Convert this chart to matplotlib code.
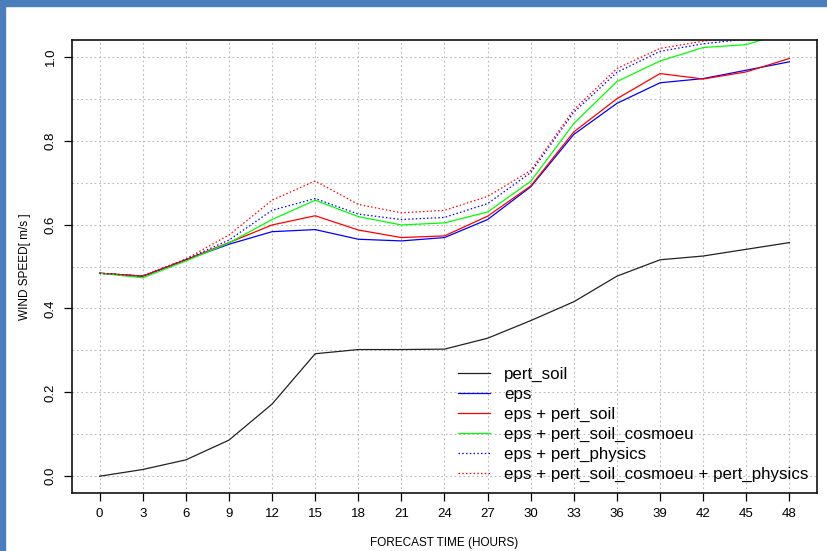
"""
Wind speed spread vs forecast lead time for the ensemble perturbation tests.
Re-draws the R base-graphics figure with matplotlib; saves out.png.
"""

import matplotlib
matplotlib.use("Agg")
import matplotlib.pyplot as plt
from matplotlib.patches import Rectangle
import numpy as np

# forecast lead times (hours)
hours = [0, 3, 6, 9, 12, 15, 18, 21, 24, 27, 30, 33, 36, 39, 42, 45, 48]

# wind speed [m/s]
pert_soil = [0.000, 0.016, 0.039, 0.086, 0.172, 0.292, 0.302, 0.302, 0.303,
             0.329, 0.371, 0.416, 0.477, 0.516, 0.525, 0.541, 0.557]
eps = [0.484, 0.477, 0.516, 0.553, 0.583, 0.588, 0.565, 0.561, 0.569,
       0.612, 0.690, 0.815, 0.889, 0.938, 0.948, 0.968, 0.988]
eps_soil = [0.484, 0.477, 0.516, 0.557, 0.599, 0.621, 0.587, 0.569, 0.573,
            0.620, 0.692, 0.821, 0.900, 0.960, 0.947, 0.964, 0.996]
eps_soil_cosmoeu = [0.484, 0.473, 0.513, 0.556, 0.612, 0.658, 0.619, 0.599, 0.604,
                    0.630, 0.703, 0.841, 0.941, 0.990, 1.022, 1.029, 1.060]
eps_physics = [0.484, 0.477, 0.517, 0.563, 0.634, 0.662, 0.625, 0.612, 0.617,
               0.650, 0.724, 0.868, 0.963, 1.013, 1.031, 1.042, 1.052]
eps_soil_cosmoeu_physics = [0.484, 0.477, 0.518, 0.575, 0.658, 0.704, 0.648, 0.628, 0.634,
                            0.667, 0.729, 0.874, 0.972, 1.020, 1.037, 1.050, 1.062]

series = [
    ("pert_soil", pert_soil, "#222222", "-"),
    ("eps", eps, "blue", "-"),
    ("eps + pert_soil", eps_soil, "red", "-"),
    ("eps + pert_soil_cosmoeu", eps_soil_cosmoeu, "#00ff00", "-"),
    ("eps + pert_physics", eps_physics, "blue", (0, (1.2, 1.8))),
    ("eps + pert_soil_cosmoeu + pert_physics", eps_soil_cosmoeu_physics, "red", (0, (1.2, 1.8))),
]

plt.rcParams["font.family"] = ["Liberation Sans", "DejaVu Sans"]

fig = plt.figure(figsize=(8.28, 5.51), dpi=100)
# window frame from the screenshot (top and left blue bars)
fig.patches.append(Rectangle((0, 1 - 6 / 551), 1, 6 / 551, transform=fig.transFigure,
                             color="#4a7ebb", zorder=0))
fig.patches.append(Rectangle((0, 0), 5 / 828, 1, transform=fig.transFigure,
                             color="#4a7ebb", zorder=0))

ax = fig.add_axes([72 / 828, 1 - 493 / 551, (817 - 72) / 828, (493 - 40) / 551])

for label, vals, col, ls in series:
    ax.plot(hours, vals, color=col, linestyle=ls, linewidth=0.9, label=label)

ax.set_xlim(-1.92, 49.92)
ax.set_ylim(-0.04, 1.04)
ax.set_xticks(hours)
ax.set_yticks(np.arange(0, 1.01, 0.2))
ax.set_yticks(np.arange(0.1, 1.0, 0.2), minor=True)
ax.set_yticklabels([f"{v:.1f}" for v in np.arange(0, 1.01, 0.2)], rotation=90, va="center")
ax.tick_params(axis="both", which="major", length=6, width=0.9, labelsize=9.5, pad=5)
ax.tick_params(axis="y", which="minor", length=0)
ax.grid(True, which="both", color="#b8b8b8", linestyle=(0, (1.5, 2.5)), linewidth=0.8)
for sp in ax.spines.values():
    sp.set_linewidth(1.2)
    sp.set_color("#111111")

ax.set_xlabel("FORECAST TIME (HOURS)", fontsize=8.5, labelpad=12)
ax.set_ylabel("WIND SPEED[ m/s ]", fontsize=8.5, labelpad=10)

ax.legend(loc="upper left", bbox_to_anchor=(0.518, 0.279), frameon=False, fontsize=12.2,
          handlelength=1.9, handletextpad=0.82, labelspacing=0.29, borderpad=0,
          borderaxespad=0)

fig.savefig("out.png", dpi=100)
